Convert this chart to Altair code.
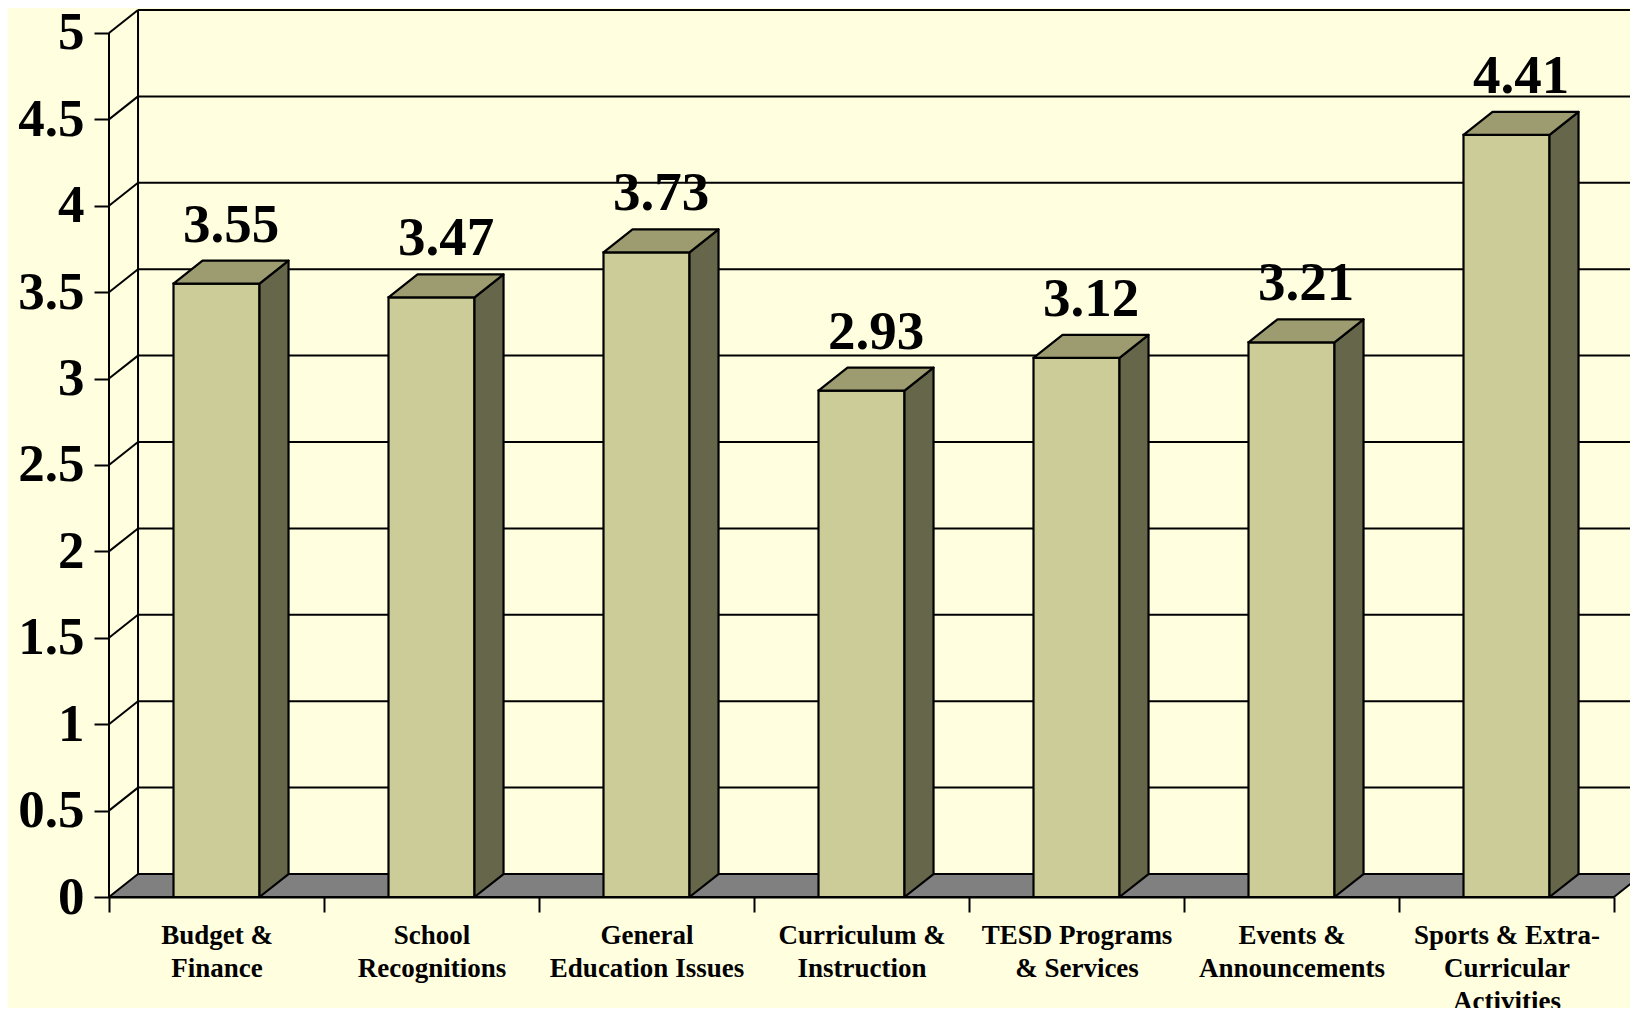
import json
import altair as alt
import pandas as pd

# ---- data ----
categories = ["Budget & Finance", "School Recognitions", "General Education Issues",
              "Curriculum & Instruction", "TESD Programs & Services",
              "Events & Announcements", "Sports & Extra-Curricular Activities"]
label_lines = [["Budget &", "Finance"], ["School", "Recognitions"],
               ["General", "Education Issues"], ["Curriculum &", "Instruction"],
               ["TESD Programs", "& Services"], ["Events &", "Announcements"],
               ["Sports & Extra-", "Curricular", "Activities"]]
values = [3.55, 3.47, 3.73, 2.93, 3.12, 3.21, 4.41]
y_ticks = [0, 0.5, 1, 1.5, 2, 2.5, 3, 3.5, 4, 4.5, 5]

# ---- style / geometry constants ----
N = len(categories)
YMAX = 5
BAR_L, BAR_R = 0.3, 0.7      # bar front face within each slot
DX, DY = 0.135, 0.133        # 3-D depth offset (x units, y units)
W, H = 1505, 887
FONT = "Liberation Serif"
BG = "#FFFFE0"
FRONT, TOP, SIDE, FLOOR = "#CCCC99", "#9C9C70", "#66664A", "#808080"

# ---- derived tables ----
front = pd.DataFrame({"cat": categories, "v": values})
front["x0"] = [i + BAR_L for i in range(N)]
front["x1"] = [i + BAR_R for i in range(N)]
front["y0"] = 0.0
front["xl"] = [i + 0.5 + DX / 2 for i in range(N)]
front["yl"] = [v + DY for v in values]
front["txt"] = [f"{v:.2f}" for v in values]

side_rows, top_rows = [], []
for i, v in enumerate(values):
    side_rows += [dict(bar=i, x=i + BAR_R, lo=0.0, hi=v),
                  dict(bar=i, x=i + BAR_R + DX, lo=DY, hi=v + DY)]
    top_rows += [dict(bar=i, x=i + BAR_L, lo=v, hi=v),
                 dict(bar=i, x=i + BAR_L + DX, lo=v, hi=v + DY),
                 dict(bar=i, x=i + BAR_R, lo=v, hi=v + DY),
                 dict(bar=i, x=i + BAR_R + DX, lo=v + DY, hi=v + DY)]
side = pd.DataFrame(side_rows)
top = pd.DataFrame(top_rows)
floor = pd.DataFrame([dict(x=0.0, lo=0.0, hi=0.0), dict(x=DX, lo=0.0, hi=DY),
                      dict(x=float(N), lo=0.0, hi=DY), dict(x=N + DX, lo=DY, hi=DY)])

grid = pd.DataFrame({"x": DX, "x2": N + DX, "y": [k + DY for k in y_ticks]})
grid["y2"] = grid["y"]
diag = pd.DataFrame({"x": 0.0, "x2": DX, "y": y_ticks[1:], "y2": [k + DY for k in y_ticks[1:]]})
walls = pd.DataFrame([dict(x=DX, x2=DX, y=DY, y2=YMAX + DY),
                      dict(x=0.0, x2=0.0, y=0.0, y2=float(YMAX))])

xs = alt.Scale(domain=[0, N], nice=False, zero=False)
ys = alt.Scale(domain=[0, YMAX + DY], nice=False, zero=False)

lines_expr = json.dumps(label_lines) + "[datum.value] || ''"

x_axis = alt.Axis(values=list(range(N + 1)), labelExpr=lines_expr, labelOffset=W / N / 2,
                  domain=True, domainColor="black", domainWidth=2,
                  ticks=True, tickSize=15, tickWidth=2, tickColor="black",
                  labelFont=FONT, labelFontWeight="bold", labelFontSize=27,
                  labelColor="black", labelLineHeight=33, labelPadding=10,
                  labelLimit=400, labelOverlap=False, labelBound=False,
                  labelFlush=False, grid=False, title=None)
y_axis = alt.Axis(values=y_ticks, format=".1~f", domain=False,
                  ticks=True, tickSize=15, tickWidth=2, tickColor="black",
                  labelFont=FONT, labelFontWeight="bold", labelFontSize=53,
                  labelColor="black", labelPadding=10, labelOverlap=False,
                  labelBound=False, labelFlush=False, grid=False, title=None)

def X(f):
    return alt.X(f, scale=xs, axis=x_axis, title=None)

def Y(f):
    return alt.Y(f, scale=ys, axis=y_axis, title=None)

grid_l = alt.Chart(grid).mark_rule(color="black", strokeWidth=2).encode(
    x=X("x:Q"), x2="x2:Q", y=Y("y:Q"), y2="y2:Q")
diag_l = alt.Chart(diag).mark_rule(color="black", strokeWidth=2).encode(
    x=X("x:Q"), x2="x2:Q", y=Y("y:Q"), y2="y2:Q")
wall_l = alt.Chart(walls).mark_rule(color="black", strokeWidth=2).encode(
    x=X("x:Q"), x2="x2:Q", y=Y("y:Q"), y2="y2:Q")
floor_l = alt.Chart(floor).mark_area(orient="vertical", fill=FLOOR, stroke="black",
                                     strokeWidth=2, strokeJoin="round").encode(
    x=X("x:Q"), y=Y("lo:Q"), y2="hi:Q")
front_l = alt.Chart(front).mark_rect(fill=FRONT, stroke="black", strokeWidth=2.2).encode(
    x=X("x0:Q"), x2="x1:Q", y=Y("y0:Q"), y2="v:Q")
side_l = alt.Chart(side).mark_area(orient="vertical", fill=SIDE, stroke="black",
                                   strokeWidth=2.2, strokeJoin="round").encode(
    x=X("x:Q"), y=Y("lo:Q"), y2="hi:Q", detail="bar:N")
top_l = alt.Chart(top).mark_area(orient="vertical", fill=TOP, stroke="black",
                                 strokeWidth=2.2, strokeJoin="round").encode(
    x=X("x:Q"), y=Y("lo:Q"), y2="hi:Q", detail="bar:N")
text_l = alt.Chart(front).mark_text(font=FONT, fontWeight="bold", fontSize=55,
                                    color="black", baseline="alphabetic",
                                    align="center", dy=-19).encode(
    x=X("xl:Q"), y=Y("yl:Q"), text="txt:N")

chart = alt.layer(grid_l, diag_l, wall_l, floor_l, front_l, side_l, top_l, text_l).properties(
    width=W, height=H,
    autosize=alt.AutoSizeParams(type="none"),
    padding={"left": 101, "top": 2, "right": 16, "bottom": 111},
    background=BG,
).configure_view(stroke=None)

chart.save("out.html", embed_options={"renderer": "svg", "actions": False})
